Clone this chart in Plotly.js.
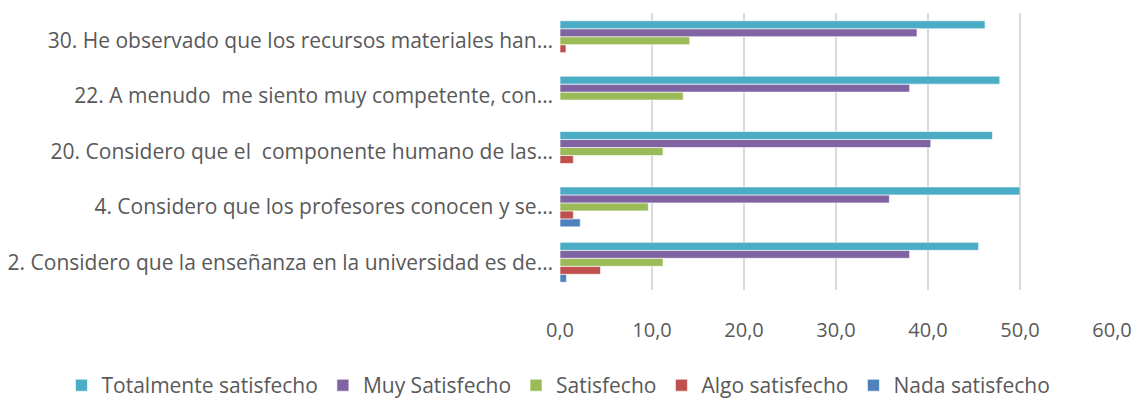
<!DOCTYPE html>
<html>
<head>
<meta charset="utf-8">
<script src="https://cdn.plot.ly/plotly-3.0.1.min.js"></script>
<style>html,body{margin:0;padding:0;background:#fff;}#chart{width:1137px;height:407px;}</style>
</head>
<body>
<div id="chart"></div>
<script>
// Categories, bottom to top
const categories = [
  "2. Considero que la enseñanza en la universidad es de…",
  "4. Considero que los profesores conocen y se…",
  "20. Considero que el  componente humano de las…",
  "22. A menudo  me siento muy competente, con…",
  "30. He observado que los recursos materiales han…"
];
const seriesNames = ["Nada satisfecho", "Algo satisfecho", "Satisfecho", "Muy Satisfecho", "Totalmente satisfecho"];
const nadaSatisfecho = [0.7, 2.2, 0, 0, 0];
const algoSatisfecho = [4.4, 1.45, 1.45, 0, 0.65];
const satisfecho = [11.2, 9.6, 11.2, 13.4, 14.1];
const muySatisfecho = [38.0, 35.8, 40.3, 38.0, 38.8];
const totalmenteSatisfecho = [45.5, 50.0, 47.0, 47.8, 46.2];
const xTicks = [0, 10, 20, 30, 40, 50, 60];

const seriesValues = [nadaSatisfecho, algoSatisfecho, satisfecho, muySatisfecho, totalmenteSatisfecho];
const colors = ["#4F81BD", "#C0504D", "#9BBB59", "#8064A2", "#4BACC6"];

const traces = seriesNames.map((name, i) => ({
  type: "bar",
  orientation: "h",
  name: name,
  y: categories,
  x: seriesValues[i],
  marker: {color: colors[i], line: {color: "rgba(255,255,255,0.6)", width: 1}},
  hoverinfo: "x+name"
}));

const font = "Open Sans, sans-serif";
const layout = {
  width: 1137, height: 407,
  margin: {l: 560, r: 0, t: 13, b: 117},
  paper_bgcolor: "#fff", plot_bgcolor: "#fff",
  barmode: "group",
  bargap: 0.28, bargroupgap: 0,
  separators: ",.",
  font: {family: font, size: 20, color: "#595959"},
  xaxis: {
    domain: [0, 0.9567],
    range: [0, 60], tickvals: xTicks, tickformat: ".1f",
    showgrid: true, gridcolor: "#D9D9D9", gridwidth: 2,
    zeroline: false, showline: false, ticks: "",
    automargin: false,
    ticklabelstandoff: 26,
    tickfont: {family: font, size: 20, color: "#595959"}
  },
  yaxis: {
    type: "category", showgrid: false, zeroline: false,
    showline: false, ticks: "", automargin: false,
    ticklabelstandoff: 6,
    tickfont: {family: font, size: 21, color: "#595959"}
  },
  legend: {
    orientation: "h", traceorder: "reversed",
    x: -0.864, xanchor: "left",
    y: -0.345, yanchor: "middle",
    font: {family: font, size: 21, color: "#595959"}
  },
  showlegend: true
};

Plotly.newPlot("chart", traces, layout, {displayModeBar: false, staticPlot: true});
</script>
</body>
</html>
